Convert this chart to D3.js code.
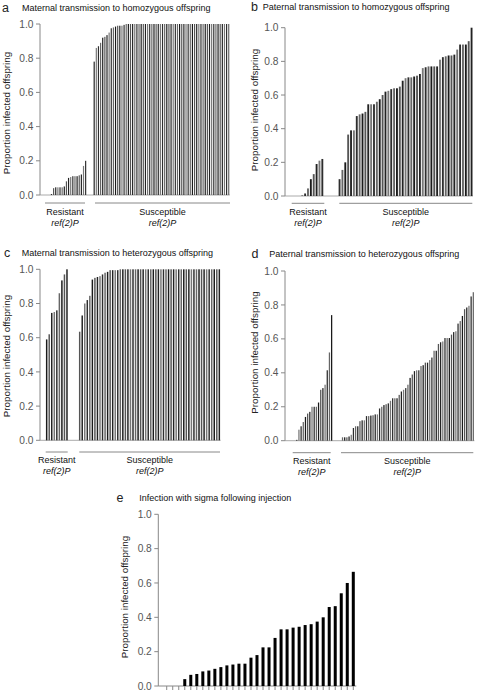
<!DOCTYPE html>
<html><head><meta charset="utf-8">
<script src="https://cdn.jsdelivr.net/npm/d3@7"></script>
<style>body{margin:0;background:#fff}svg{display:block;font-family:"Liberation Sans",Arial,sans-serif}</style>
</head><body>
<svg id="c" width="478" height="692"></svg>
<script>
// ---- data ----
const titles = [
  "Maternal transmission to homozygous offspring",
  "Paternal transmission to homozygous offspring",
  "Maternal transmission to heterozygous offspring",
  "Paternal transmission to heterozygous offspring",
  "Infection with sigma following injection"
];
const panelLetters = ["a","b","c","d","e"];
const yTicks = [0, 0.2, 0.4, 0.6, 0.8, 1.0];
const yLabel = "Proportion infected offspring";
const groupNames = ["Resistant", "Susceptible"];
const geneName = "ref(2)P";

const resA = [0.005,0.04,0.045,0.045,0.045,0.045,0.05,0.08,0.1,0.105,0.11,0.11,0.11,0.115,0.12,0.17,0.2];
const susA = [0.78,0.86,0.87,0.89,0.92,0.925,0.935,0.95,0.975,0.98,0.985,0.99,0.99,0.99,0.995,
  1,1,1,1,1,1,1,1,1,1,1,1,1,1,1,1,1,1,1,1,1,1,1,1,1,1,1,1,1,1,1,1,1,1,1,1,1,1,1,1,1,1,1,1,1,1,1,1,1];
const resB = [0,0,0,0.005,0.015,0.045,0.1,0.13,0.19,0.21,0.22];
const susB = [0.1,0.155,0.2,0.365,0.39,0.39,0.475,0.485,0.49,0.5,0.545,0.545,0.545,0.56,0.575,0.6,0.62,0.625,0.635,0.64,0.64,0.65,0.685,0.7,0.705,0.705,0.71,0.715,0.725,0.76,0.765,0.77,0.77,0.77,0.77,0.81,0.825,0.83,0.835,0.835,0.84,0.87,0.9,0.9,0.9,0.92,1.0];
const resC = [0.59,0.62,0.745,0.75,0.76,0.86,0.935,0.97,1.0];
const susC = [0.635,0.73,0.8,0.82,0.845,0.94,0.95,0.955,0.96,0.97,0.98,0.985,0.995,0.995,0.995,0.995,
  1,1,1,1,1,1,1,1,1,1,1,1,1,1,1,1,1,1,1,1,1,1,1,1,1,1,1,1,1,1,1,1,1,1,1,1,1,1,1,1];
const resD = [0,0,0.005,0.065,0.085,0.11,0.14,0.16,0.17,0.2,0.2,0.2,0.225,0.3,0.31,0.33,0.415,0.52,0.74];
const susD = [0.02,0.02,0.02,0.025,0.035,0.075,0.085,0.085,0.115,0.12,0.12,0.145,0.145,0.148,0.15,0.155,0.155,0.19,0.2,0.21,0.215,0.22,0.235,0.25,0.25,0.25,0.27,0.29,0.3,0.31,0.33,0.37,0.39,0.41,0.415,0.415,0.44,0.445,0.46,0.46,0.475,0.49,0.53,0.53,0.57,0.58,0.585,0.605,0.605,0.605,0.625,0.64,0.645,0.69,0.705,0.735,0.775,0.785,0.795,0.85,0.875];
const injE = [0,0,0,0.04,0.065,0.07,0.085,0.09,0.1,0.11,0.12,0.125,0.13,0.13,0.165,0.18,0.225,0.225,0.28,0.33,0.33,0.34,0.345,0.355,0.36,0.375,0.4,0.46,0.465,0.54,0.6,0.665];

// ---- layout ----
const svg = d3.select("#c");
const palette = ["#1a1a1a","#555","#222","#777","#2e2e2e","#666"];

const layouts = [
  {res:resA, sus:susA, gap:3, ax:40, yT:24, yB:195, br:[50.4,229.8], pad:0.45,
   lines:[[45,85],[95,230]], lineY:203, lab1:215, lab2:225.5, ttlY:11, letX:2, ttlX:22, ylx:10, yly:113},
  {res:resB, sus:susB, gap:5, ax:285, yT:27.7, yB:196, br:[292.2,473], pad:0.35,
   lines:[[291.7,324.3],[339.3,472.3]], lineY:203.3, lab1:215, lab2:225.5, ttlY:10, letX:251, ttlX:262.7, ylx:258, yly:110},
  {res:resC, sus:susC, gap:4, ax:40, yT:269.3, yB:440.3, br:[45.4,220.6], pad:0.42,
   lines:[[45.7,67.7],[79.3,220]], lineY:452, lab1:463, lab2:473.5, ttlY:256, letX:4, ttlX:21.7, ylx:10, yly:356},
  {res:resD, sus:susD, gap:4, ax:285, yT:271, yB:440.7, br:[291.3,474.4], pad:0.42,
   lines:[[292.7,330.7],[341,473.3]], lineY:452.7, lab1:464, lab2:474.5, ttlY:256.5, letX:251.5, ttlX:269.3, ylx:258, yly:352.5}
];

function axisY(g, y, ax, yT, yB) {
  g.append("line").attr("x1",ax).attr("x2",ax).attr("y1",yT).attr("y2",yB)
    .attr("stroke","#888").attr("stroke-width",1);
  yTicks.forEach(t => {
    g.append("line").attr("x1",ax-4).attr("x2",ax).attr("y1",y(t)).attr("y2",y(t))
      .attr("stroke","#888").attr("stroke-width",1);
    g.append("text").attr("x",ax-6.5).attr("y",y(t)+3.6).attr("text-anchor","end")
      .attr("font-size",10.2).attr("fill","#555").text(t.toFixed(1));
  });
}

function titleAndLabel(g, i, L) {
  g.append("text").attr("x",L.letX).attr("y",L.ttlY+1).attr("font-size",12.5).attr("fill","#222").text(panelLetters[i]);
  g.append("text").attr("x",L.ttlX).attr("y",L.ttlY).attr("font-size",9).attr("fill","#111").text(titles[i]);
  g.append("text").attr("transform",`translate(${L.ylx},${L.yly}) rotate(-90)`).attr("text-anchor","middle")
    .attr("font-size",9.8).attr("fill","#222").text(yLabel);
}

layouts.forEach((L, i) => {
  const g = svg.append("g");
  const y = d3.scaleLinear().domain([0,1]).range([L.yB, L.yT]);
  const items = [];
  L.res.forEach(v => items.push(v));
  for (let k=0;k<L.gap;k++) items.push(null);
  L.sus.forEach(v => items.push(v));
  const x = d3.scaleBand().domain(d3.range(items.length)).range(L.br)
    .paddingInner(L.pad).paddingOuter(L.pad/2);
  g.append("line").attr("x1",L.ax).attr("x2",L.br[1]).attr("y1",y(0)).attr("y2",y(0))
    .attr("stroke","#aaa").attr("stroke-width",1);
  g.selectAll("rect.bar").data(items.map((v,k)=>({v,k})).filter(d=>d.v!==null && d.v>0))
    .enter().append("rect").attr("class","bar")
    .attr("x",d=>x(d.k)).attr("width",x.bandwidth())
    .attr("y",d=>y(d.v)).attr("height",d=>y(0)-y(d.v))
    .attr("fill",d=>palette[d.k % palette.length]);
  axisY(g, y, L.ax, L.yT, L.yB);
  titleAndLabel(g, i, L);
  L.lines.forEach((ln, j) => {
    g.append("line").attr("x1",ln[0]).attr("x2",ln[1]).attr("y1",L.lineY).attr("y2",L.lineY)
      .attr("stroke","#888").attr("stroke-width",1);
    const cx = (ln[0]+ln[1])/2;
    g.append("text").attr("x",cx).attr("y",L.lab1).attr("text-anchor","middle")
      .attr("font-size",9).attr("fill","#111").text(groupNames[j]);
    g.append("text").attr("x",cx).attr("y",L.lab2).attr("text-anchor","middle")
      .attr("font-size",9).attr("font-style","italic").attr("fill","#111").text(geneName);
  });
});

// panel e
{
  const L = {ax:158.3, yT:514.3, yB:686, br:[163.7,356.3], ttlY:501, letX:116.5, ttlX:139.3, ylx:128, yly:597};
  const g = svg.append("g");
  const y = d3.scaleLinear().domain([0,1]).range([L.yB, L.yT]);
  const x = d3.scaleBand().domain(d3.range(injE.length)).range(L.br).paddingInner(0.5).paddingOuter(0.25);
  g.append("line").attr("x1",L.ax).attr("x2",L.br[1]).attr("y1",y(0)).attr("y2",y(0))
    .attr("stroke","#888").attr("stroke-width",1);
  injE.forEach((v,k) => {
    const cx = x(k) + x.bandwidth()/2;
    g.append("line").attr("x1",cx).attr("x2",cx).attr("y1",y(0)).attr("y2",y(0)+4)
      .attr("stroke","#888").attr("stroke-width",1);
  });
  g.selectAll("rect.bar").data(injE.map((v,k)=>({v,k})).filter(d=>d.v>0))
    .enter().append("rect").attr("class","bar")
    .attr("x",d=>x(d.k)).attr("width",x.bandwidth())
    .attr("y",d=>y(d.v)).attr("height",d=>y(0)-y(d.v)).attr("fill","#000");
  axisY(g, y, L.ax, L.yT, L.yB);
  titleAndLabel(g, 4, L);
}
</script>
</body></html>
